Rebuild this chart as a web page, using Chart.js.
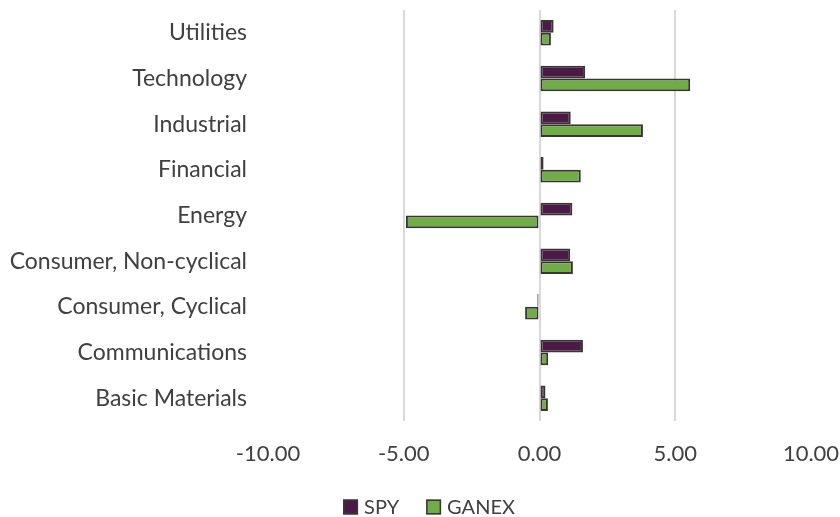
<!DOCTYPE html>
<html>
<head>
<meta charset="utf-8">
<script src="https://cdn.jsdelivr.net/npm/chart.js@4"></script>
<style>
html,body{margin:0;padding:0;background:#fff;}
#wrap{width:840px;height:517px;}
</style>
</head>
<body>
<div id="wrap"><canvas id="c" width="840" height="517"></canvas></div>
<script>
const categories = ["Utilities","Technology","Industrial","Financial","Energy","Consumer, Non-cyclical","Consumer, Cyclical","Communications","Basic Materials"];
const spyValues = [0.52, 1.68, 1.15, 0.15, 1.21, 1.13, -0.08, 1.60, 0.22];
const ganexValues = [0.42, 5.55, 3.81, 1.52, -4.92, 1.23, -0.53, 0.32, 0.31];
const xTicks = [-10, -5, 0, 5, 10];

const FONT = "Lato, 'Source Sans Pro', sans-serif";

const bottomLegend = {
  id: 'bottomLegend',
  afterDraw(chart) {
    const ctx = chart.ctx;
    const ds = chart.data.datasets;
    ctx.save();
    ctx.font = '20px ' + FONT;
    ctx.textBaseline = 'middle';
    ctx.textAlign = 'left';
    const box = 15, gapText = 6, gapItem = 27;
    const widths = ds.map(d => ctx.measureText(d.label).width);
    let total = 0;
    widths.forEach((w, i) => { total += box + gapText + w + (i < widths.length - 1 ? gapItem : 0); });
    let x = 429 - total / 2;
    const cy = 507;
    ds.forEach((d, i) => {
      ctx.fillStyle = d.backgroundColor;
      ctx.fillRect(x, cy - box / 2, box, box);
      ctx.strokeStyle = '#3D3535';
      ctx.lineWidth = 1.5;
      ctx.strokeRect(x + 0.75, cy - box / 2 + 0.75, box - 1.5, box - 1.5);
      ctx.fillStyle = '#404040';
      ctx.fillText(d.label, x + box + gapText, cy + 1);
      x += box + gapText + widths[i] + gapItem;
    });
    ctx.restore();
  }
};

new Chart(document.getElementById('c'), {
  type: 'bar',
  data: {
    labels: categories,
    datasets: [
      {label: 'SPY', data: spyValues, backgroundColor: '#4B1A47', borderColor: '#3A3434', borderWidth: 2, borderSkipped: false, categoryPercentage: 0.56, barPercentage: 1.0},
      {label: 'GANEX', data: ganexValues, backgroundColor: '#70AD47', borderColor: '#3A3434', borderWidth: 2, borderSkipped: false, categoryPercentage: 0.56, barPercentage: 1.0}
    ]
  },
  options: {
    indexAxis: 'y',
    responsive: false,
    animation: false,
    layout: {padding: {top: 10, right: 29, left: 0, bottom: 40}},
    plugins: {
      legend: {display: false},
      tooltip: {enabled: false}
    },
    scales: {
      x: {
        min: -10, max: 10,
        afterBuildTicks: (s) => { s.ticks = xTicks.map(v => ({value: v})); },
        ticks: {font: {family: FONT, size: 22}, color: '#404040', padding: 20, callback: (v) => Number(v).toFixed(2)},
        grid: {color: (ctx) => (ctx.tick && Math.abs(ctx.tick.value) === 10) ? 'rgba(0,0,0,0)' : '#D9D9D9', lineWidth: 2, drawTicks: false},
        border: {display: false},
        afterFit: (s) => { s.height = 56; s.paddingLeft = 0; s.paddingRight = 0; }
      },
      y: {
        ticks: {font: {family: FONT, size: 23}, color: '#404040', padding: 13},
        grid: {display: false},
        border: {display: false},
        afterFit: (s) => { s.width = 268; s.paddingTop = 0; s.paddingBottom = 0; }
      }
    }
  },
  plugins: [bottomLegend]
});
</script>
</body>
</html>
